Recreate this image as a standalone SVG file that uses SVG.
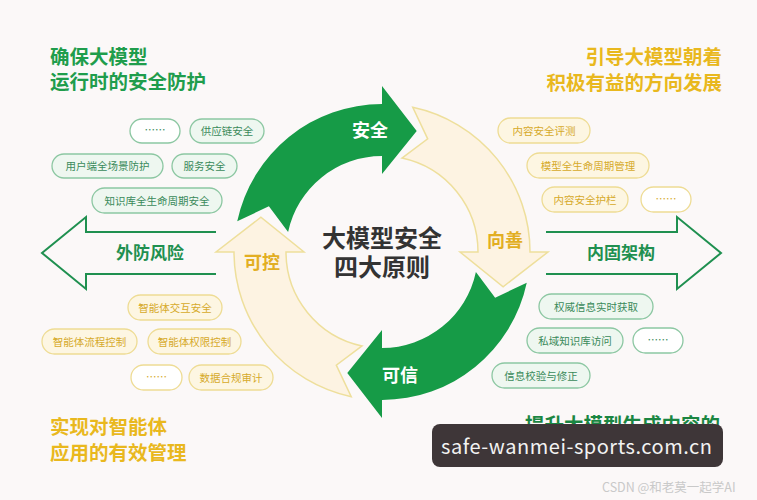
<svg xmlns="http://www.w3.org/2000/svg" width="757" height="500" viewBox="0 0 757 500">
<style>
text{font-family:"Noto Sans CJK SC","Noto Sans",sans-serif}
.title{font-size:19.5px;font-weight:700}
.tg{fill:#1f9d4c}
.ty{fill:#e9b81e}
.tdg{fill:#1a8642}
.pg rect{fill:#eef7f0;stroke:#8cc7a2;stroke-width:1.3}
.pg text{fill:#3a8a5a;font-size:10.5px;text-anchor:middle}
.py rect{fill:#fdf6e2;stroke:#eedc94;stroke-width:1.3}
.py text{fill:#d6aa2a;font-size:10.5px;text-anchor:middle}
.dots rect{fill:#ffffff}
.side{fill:none;stroke:#1f9050;stroke-width:2;stroke-linejoin:miter}
.sidelabel{fill:#1f9050;font-size:17px;font-weight:700;text-anchor:middle}
.ga{fill:#169b47}
.ya{fill:#fdf3e2;stroke:#eedf9c;stroke-width:1.5}
.lw{fill:#ffffff;font-size:18px;font-weight:700;text-anchor:middle}
.ly{fill:#e2ae22;font-size:18px;font-weight:700;text-anchor:middle}
.center{fill:#333333;font-size:24px;font-weight:700;text-anchor:middle}
</style>
<defs>
<path id="arc" d="M 237.24 221.23 A 148 148 0 0 1 382 104 L 382 86 L 416.73 130.88 L 382 174 L 382 156 A 96 96 0 0 0 288.10 232.04 L 268.88 206.30 Z"/>
</defs>
<rect x="0" y="0" width="757" height="500" fill="#fbf8f8"/>

<g id="title-tl">
<text class="title tg" x="50" y="64">确保大模型</text>
<text class="title tg" x="50" y="89">运行时的安全防护</text>
</g>
<g id="title-tr">
<text class="title ty" x="722" y="64" text-anchor="end">引导大模型朝着</text>
<text class="title ty" x="722" y="90" text-anchor="end">积极有益的方向发展</text>
</g>
<g id="title-bl">
<text class="title ty" x="50" y="434">实现对智能体</text>
<text class="title ty" x="50" y="460">应用的有效管理</text>
</g>
<g id="title-br">
<text class="title tdg" x="720" y="432" text-anchor="end">提升大模型生成内容的</text>
<text class="title tdg" x="720" y="459" text-anchor="end">可信度、完整性与准确性</text>
</g>

<g id="connectors">
<g id="arrow-left">
<path class="side" d="M216 232 L86 232 L86 217 L42 253 L86 289 L86 274 L216 274"/>
<text class="sidelabel" x="150" y="259">外防风险</text>
</g>
<g id="arrow-right">
<path class="side" d="M546 232 L677 232 L677 217 L721 253 L677 289 L677 274 L546 274"/>
<text class="sidelabel" x="621" y="259">内固架构</text>
</g>
</g>

<g id="pills-tl">
<g class="pg dots"><rect x="130" y="119" width="50" height="24" rx="12"/><text x="155" y="134">……</text></g>
<g class="pg"><rect x="190" y="119" width="74" height="24" rx="12"/><text x="227" y="135">供应链安全</text></g>
<g class="pg"><rect x="52" y="154" width="111" height="24" rx="12"/><text x="107.5" y="170">用户端全场景防护</text></g>
<g class="pg"><rect x="172" y="154" width="65" height="24" rx="12"/><text x="204.5" y="170">服务安全</text></g>
<g class="pg"><rect x="92" y="188" width="130" height="25" rx="12.5"/><text x="157" y="204.5">知识库全生命周期安全</text></g>
</g>

<g id="pills-tr">
<g class="py"><rect x="498" y="118" width="92" height="25" rx="12.5"/><text x="544" y="134.5">内容安全评测</text></g>
<g class="py"><rect x="527" y="153" width="122" height="25" rx="12.5"/><text x="588" y="169.5">模型全生命周期管理</text></g>
<g class="py"><rect x="542" y="187" width="86" height="25" rx="12.5"/><text x="585" y="203.5">内容安全护栏</text></g>
<g class="py dots"><rect x="641" y="187" width="50" height="25" rx="12.5"/><text x="666" y="202.5">……</text></g>
</g>

<g id="pills-bl">
<g class="py"><rect x="128" y="295" width="94" height="25" rx="12.5"/><text x="175" y="311.5">智能体交互安全</text></g>
<g class="py"><rect x="42" y="329" width="95" height="25" rx="12.5"/><text x="89.5" y="345.5">智能体流程控制</text></g>
<g class="py"><rect x="148" y="329" width="93" height="25" rx="12.5"/><text x="194.5" y="345.5">智能体权限控制</text></g>
<g class="py dots"><rect x="131" y="365" width="51" height="25" rx="12.5"/><text x="156.5" y="380.5">……</text></g>
<g class="py"><rect x="189" y="365" width="84" height="25" rx="12.5"/><text x="231" y="381.5">数据合规审计</text></g>
</g>

<g id="pills-br">
<g class="pg"><rect x="539" y="294" width="114" height="25" rx="12.5"/><text x="596" y="310.5">权威信息实时获取</text></g>
<g class="pg"><rect x="527" y="328" width="96" height="25" rx="12.5"/><text x="575" y="344.5">私域知识库访问</text></g>
<g class="pg dots"><rect x="633" y="328" width="50" height="25" rx="12.5"/><text x="658" y="343.5">……</text></g>
<g class="pg"><rect x="492" y="363" width="98" height="25" rx="12.5"/><text x="541" y="379.5">信息校验与修正</text></g>
</g>

<g id="cycle-anquan">
<use href="#arc" class="ga"/>
<text class="lw" x="370" y="137">安全</text>
</g>
<g id="cycle-xiangshan">
<use href="#arc" class="ya" transform="rotate(90 382 252)"/>
<text class="ly" x="505" y="247">向善</text>
</g>
<g id="cycle-kexin">
<use href="#arc" class="ga" transform="rotate(180 382 252)"/>
<text class="lw" x="400" y="382">可信</text>
</g>
<g id="cycle-kekong">
<use href="#arc" class="ya" transform="rotate(270 382 252)"/>
<text class="ly" x="262" y="269">可控</text>
</g>

<g id="center">
<text class="center" x="382" y="247">大模型安全</text>
<text class="center" x="382" y="276">四大原则</text>
</g>

<g id="watermark">
<rect x="432" y="424" width="291" height="43" rx="8" fill="#3e3638"/>
<text x="441" y="454" font-family="'Noto Sans',sans-serif" font-size="20" fill="#f2f2f2" textLength="271">safe-wanmei-sports.com.cn</text>
<text x="602" y="492" font-size="12.5" fill="#c9c9c9">CSDN @和老莫一起学AI</text>
</g>
</svg>
